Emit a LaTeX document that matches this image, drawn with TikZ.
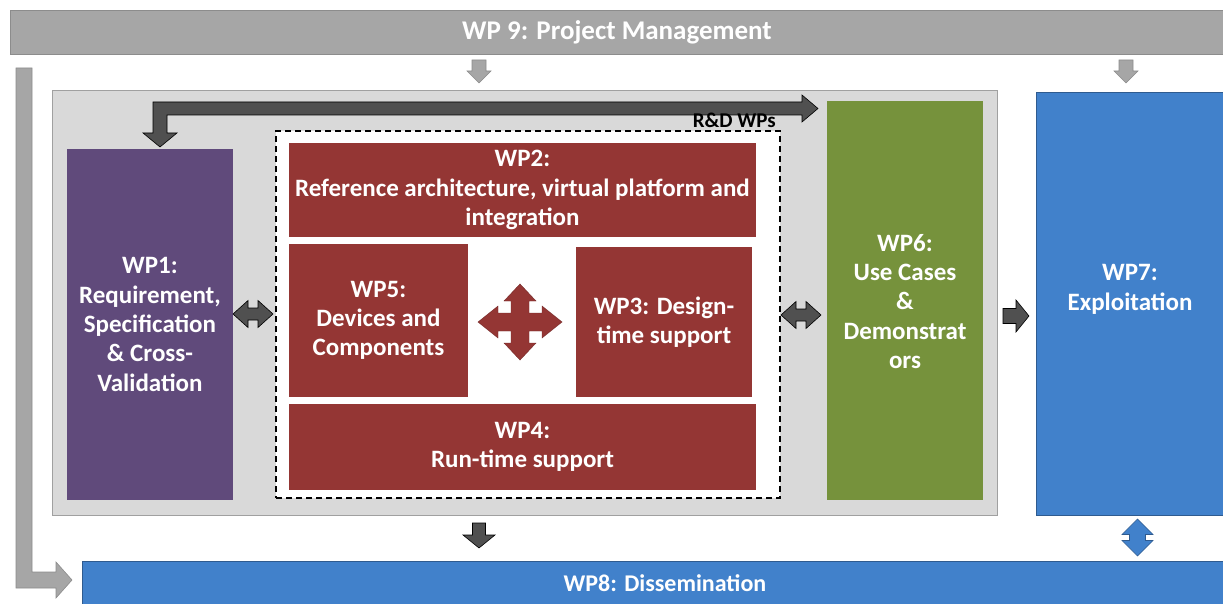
\documentclass[tikz,border=0pt]{standalone}
\usepackage{fontspec}
\newfontfamily\carl{Carlito}
\definecolor{pmgray}{HTML}{A6A6A6}
\definecolor{pmedge}{HTML}{8C8C8C}
\definecolor{coregray}{HTML}{D9D9D9}
\definecolor{coreedge}{HTML}{A0A0A0}
\definecolor{wppurple}{HTML}{604A7B}
\definecolor{wpred}{HTML}{943634}
\definecolor{wpgreen}{HTML}{76923C}
\definecolor{wpblue}{HTML}{4181CB}
\definecolor{blueedge}{HTML}{2F5B8F}
\definecolor{darkarrow}{HTML}{505050}
\begin{document}
\begin{tikzpicture}[x=1pt,y=-1pt,
  wpfont/.style={font=\carl\bfseries\fontsize{25}{29.3}\selectfont},
  wpbox/.style={inner sep=0pt, align=center, text=white, wpfont},
  darrow/.style={fill=darkarrow, draw=black, line width=0.6pt, line join=miter},
  garrow/.style={fill=pmgray, draw=pmedge, line width=0.6pt},
  barrow/.style={fill=wpblue, draw=blueedge, line width=0.6pt},
  rarrow/.style={fill=wpred, draw=wpred!80!black, line width=0.4pt}]
\useasboundingbox (0,0) rectangle (1223,604);

% WP9 bar
\node[wpbox, font=\carl\bfseries\fontsize{27}{32}\selectfont, fill=pmgray, draw=pmedge, minimum width=1214pt, minimum height=44pt] (wp9) at (617,32) {WP 9: Project Management};

% left gray L arrow
\draw[garrow] (16,68) -- (32,68) -- (32,572) -- (56,572) -- (56,562) -- (72,580) -- (56,598) -- (56,588) -- (16,588) -- cycle;

% small gray down arrows
\foreach \cx in {479,1126}{
  \draw[garrow] (\cx-7,60) -- (\cx+7,60) -- (\cx+7,71) -- (\cx+12,71) -- (\cx,83) -- (\cx-12,71) -- (\cx-7,71) -- cycle;
}

% core box
\node[fill=coregray, draw=coreedge, line width=0.8pt, minimum width=945pt, minimum height=425pt, inner sep=0pt] (core) at (524.5,302.5) {};

% dark L arrow (R&D loop)
\draw[darrow] (160,147) -- (143,133) -- (153,133) -- (153,102) -- (802,102) -- (802,95) -- (818,108.5) -- (802,122) -- (802,115) -- (167,115) -- (167,133) -- (177,133) -- cycle;

% WP1
\node[wpbox, fill=wppurple, minimum width=166pt, minimum height=351pt] (wp1) at (150,324.5) {WP1:\\Requirement,\\Specification\\\& Cross-\\Validation};

% R&D dashed box
\node[fill=white, draw=black, dash pattern=on 6pt off 4pt, line width=1.2pt, minimum width=504pt, minimum height=367pt, inner sep=0pt] (rd) at (528,314.5) {};
\node[anchor=base east, inner sep=0pt, font=\carl\bfseries\fontsize{21}{24}\selectfont] (rdlabel) at (776,128) {R\&D WPs};

% WP2..WP5
\node[wpbox, fill=wpred, minimum width=467pt, minimum height=94pt] (wp2) at (522.5,190) {WP2:\\Reference architecture, virtual platform and\\integration};
\node[wpbox, fill=wpred, minimum width=179pt, minimum height=153pt] (wp5) at (378.5,320.5) {WP5:\\Devices and\\Components};
\node[wpbox, fill=wpred, minimum width=176pt, minimum height=150pt] (wp3) at (664,322) {WP3: Design-\\time support};
\node[wpbox, fill=wpred, minimum width=467pt, minimum height=86pt] (wp4) at (522.5,447) {WP4:\\Run-time support};

% quad arrow
\begin{scope}[shift={(520,322)}]
\draw[rarrow] (0,-38) -- (16,-21) -- (9,-21) -- (9,-9) -- (22,-9) -- (22,-16) -- (42,0) -- (22,16) -- (22,9) -- (9,9) -- (9,21) -- (16,21) -- (0,38) -- (-16,21) -- (-9,21) -- (-9,9) -- (-22,9) -- (-22,16) -- (-42,0) -- (-22,-16) -- (-22,-9) -- (-9,-9) -- (-9,-21) -- (-16,-21) -- cycle;
\end{scope}

% WP6
\node[wpbox, fill=wpgreen, minimum width=156pt, minimum height=399pt] (wp6) at (905,300.5) {};
\node[wpbox] (wp6t) at ([yshift=-1pt]wp6.center) {WP6:\\Use Cases\\\&\\Demonstrat\\ors};

% double arrows
\foreach \cx/\cy in {253/314, 801/315}{
  \draw[darrow] (\cx-20,\cy) -- (\cx-5,\cy-13.5) -- (\cx-5,\cy-6) -- (\cx+5,\cy-6) -- (\cx+5,\cy-13.5) -- (\cx+20,\cy) -- (\cx+5,\cy+13.5) -- (\cx+5,\cy+6) -- (\cx-5,\cy+6) -- (\cx-5,\cy+13.5) -- cycle;
}

% right arrow to WP7
\draw[darrow] (1003,308.5) -- (1016,308.5) -- (1016,300) -- (1029,316) -- (1016,332) -- (1016,323.5) -- (1003,323.5) -- cycle;

% WP7
\node[wpbox, fill=wpblue, draw=blueedge, line width=0.8pt, minimum width=188pt, minimum height=423pt] (wp7) at (1130,303.5) {};
\node[wpbox] (wp7t) at ([yshift=14pt]wp7.center) {WP7:\\Exploitation};

% down arrow to WP8
\draw[darrow] (472.5,523) -- (485.5,523) -- (485.5,535) -- (495,535) -- (479,548) -- (463,535) -- (472.5,535) -- cycle;

% blue double vertical arrow
\coordinate (bd) at (1137.5,537.5);
\draw[barrow] (bd) ++(0,-18.5) -- ++(15.5,15.5) -- ++(-7.5,0) -- ++(0,6) -- ++(7.5,0) -- ++(-15.5,15.5) -- ++(-15.5,-15.5) -- ++(7.5,0) -- ++(0,-6) -- ++(-7.5,0) -- cycle;

% WP8
\node[wpbox, font=\carl\bfseries\fontsize{24}{29}\selectfont, fill=wpblue, draw=blueedge, line width=0.8pt, minimum width=1166pt, minimum height=44pt] (wp8) at (665,583) {WP8: Dissemination};
\end{tikzpicture}
\end{document}
